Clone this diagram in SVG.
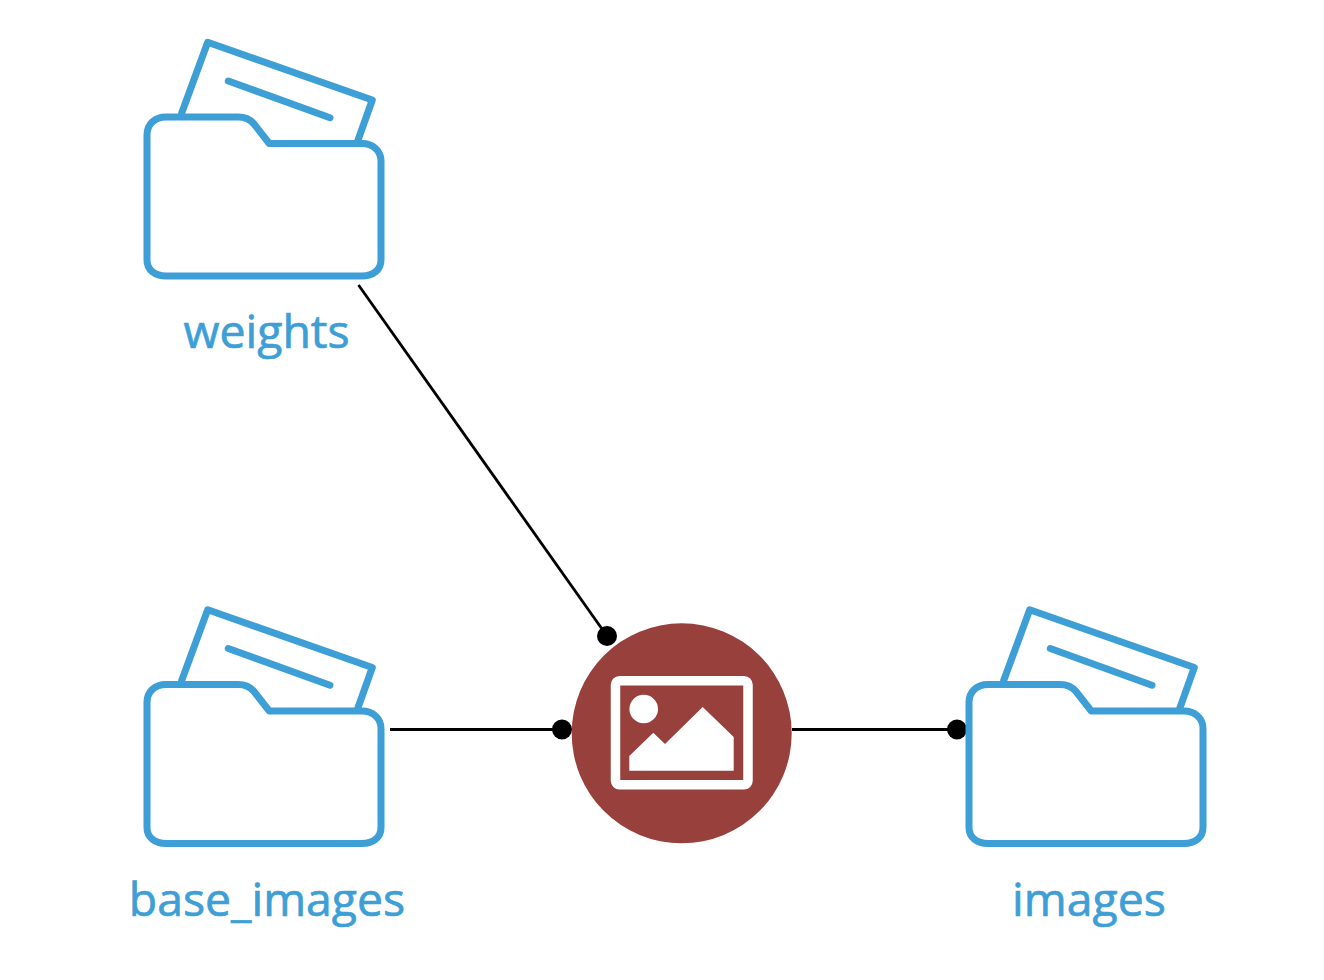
<svg xmlns="http://www.w3.org/2000/svg" width="1324" height="980" viewBox="0 0 1324 980">
<style>
.f{fill:none;stroke:#3d9fd5;stroke-width:7;stroke-linejoin:round;stroke-linecap:round}
.n{fill:none;stroke:#3d9fd5;stroke-width:7;stroke-linejoin:round;stroke-linecap:round}
.l{font-family:"Open Sans","Noto Sans",sans-serif;font-size:46.400px;fill:#3d9fd5;stroke:#3d9fd5;stroke-width:.7;text-anchor:middle}
.c{stroke:#000;stroke-width:2.800;fill:none}
</style>
<defs>
<g id="folder">
<path class="n" d="M181.700 113L207.700 42.300L372.300 100L357.700 141"/>
<path class="n" d="M228.300 81L330 117.700"/>
<path class="f" d="M166 117H238C245 117 250 119 254 124L269.300 143.500H362C373 143.500 381 151 381 161V260C381 270 373 276 362 276H166C155 276 147 270 147 260V135C147 124 155 117 166 117Z"/>
</g>
</defs>
<g id="connectors">
<path class="c" d="M358.500 285L607 636"/>
<path class="c" d="M390 729.500H562"/>
<path class="c" d="M792 729.500H957"/>
<circle cx="607" cy="636" r="10"/>
<circle cx="562" cy="729.500" r="10"/>
<circle cx="957" cy="729.500" r="10"/>
</g>
<g id="weights">
<use href="#folder"/>
<text class="l" x="266.500" y="348">weights</text>
</g>
<g id="base_images">
<use href="#folder" y="567.500"/>
<text class="l" x="267" y="916">base_images</text>
</g>
<g id="images">
<use href="#folder" x="822" y="567.500"/>
<text class="l" x="1089" y="916">images</text>
</g>
<g id="process">
<circle cx="681.700" cy="733.300" r="110" fill="#98403c"/>
<rect x="615.500" y="680.700" width="132.500" height="104" rx="4" fill="none" stroke="#fff" stroke-width="9.500"/>
<circle cx="643.700" cy="709" r="14.300" fill="#fff"/>
<path fill="#fff" d="M629.300 756L653.300 732.700L665 744L702.700 707L733.700 737V770.700H629.300Z"/>
</g>
</svg>
